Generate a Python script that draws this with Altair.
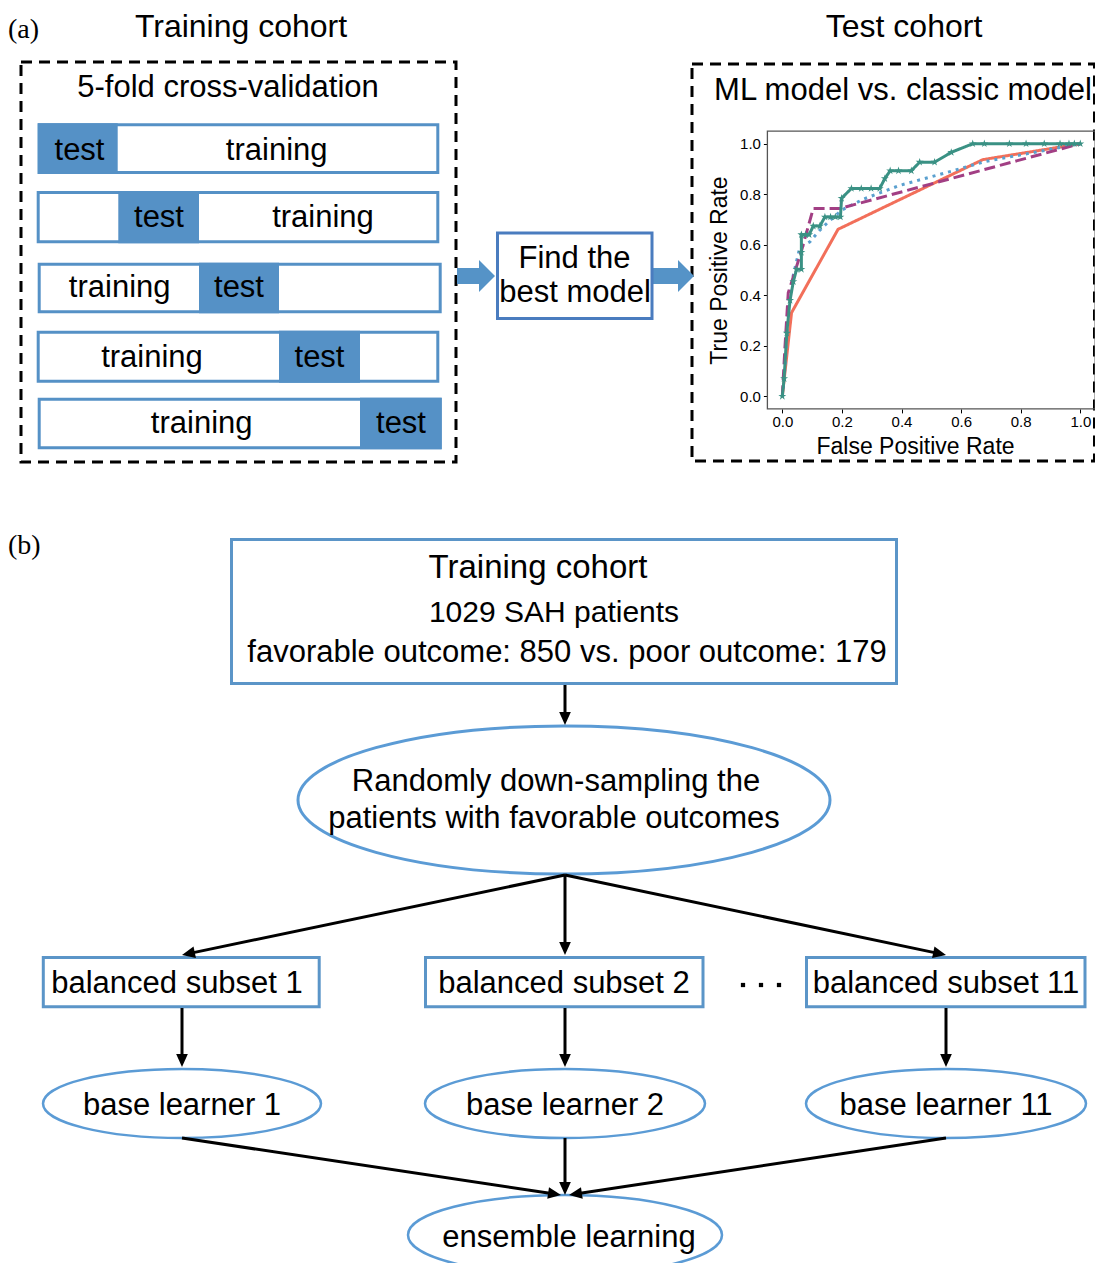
import math
import altair as alt
import pandas as pd

# ---------------- ROC data ----------------
green_fpr = [0, 0.006, 0.015, 0.026, 0.037, 0.048, 0.064, 0.064, 0.064, 0.078, 0.09, 0.104, 0.126,
             0.143, 0.162, 0.178, 0.195, 0.199, 0.232, 0.265, 0.298, 0.327, 0.344, 0.362, 0.39,
             0.433, 0.461, 0.511, 0.567, 0.639, 0.678, 0.762, 0.818, 0.879, 0.932, 0.962, 0.98, 1.0]
green_tpr = [0, 0.07, 0.25, 0.38, 0.454, 0.503, 0.503, 0.57, 0.64, 0.64, 0.64, 0.674, 0.674,
             0.71, 0.71, 0.71, 0.71, 0.784, 0.823, 0.823, 0.823, 0.823, 0.862, 0.893, 0.893,
             0.893, 0.927, 0.927, 0.966, 1.0, 1.0, 1.0, 1.0, 1.0, 1.0, 1.0, 1.0, 1.0]
red_fpr = [0, 0.031, 0.187, 0.673, 1.0]
red_tpr = [0, 0.331, 0.661, 0.937, 1.0]
purple_fpr = [0, 0.009, 0.02, 0.037, 0.065, 0.104, 0.195, 1.0]
purple_tpr = [0, 0.196, 0.41, 0.473, 0.579, 0.744, 0.744, 1.0]
blue_fpr = [0, 0.004, 0.01, 0.02, 0.035, 0.059, 0.093, 0.126, 0.154, 0.199, 0.271, 0.394, 0.573, 0.679, 1.0]
blue_tpr = [0, 0.04, 0.13, 0.35, 0.47, 0.59, 0.612, 0.658, 0.69, 0.737, 0.78, 0.835, 0.893, 0.929, 1.0]

series_names = ["classic", "dotted", "dashed", "ML"]
series_colors = ["#f26f5a", "#5aa0cf", "#a23f84", "#3a9184"]
series_dash = [[1, 0], [3, 5], [11, 5], [1, 0]]
tick_vals = [0.0, 0.2, 0.4, 0.6, 0.8, 1.0]

# ---------------- diagram text ----------------
fold_test = "test"
fold_train = "training"

# ---------------- canvas / scales ----------------
W, H = 1087, 1255
X0, Y0 = 8, 8
xs = alt.Scale(domain=[X0, X0 + W], range=[0, W], nice=False, zero=False)
ys = alt.Scale(domain=[Y0, Y0 + H], range=[0, H], nice=False, zero=False)


def XE(f):
    return alt.X(f"{f}:Q", scale=xs, axis=None)


def YE(f):
    return alt.Y(f"{f}:Q", scale=ys, axis=None)


layers = []

# dashed boxes (a)
dash_df = pd.DataFrame({"x1": [21, 692], "x2": [456, 1094.5], "y1": [62, 64], "y2": [462, 461]})
layers.append(alt.Chart(dash_df).mark_rect(fillOpacity=0, stroke="black", strokeWidth=3,
                                            strokeDash=[11, 7]).encode(
    x=XE("x1"), x2="x2", y=YE("y1"), y2="y2"))

# fold bars
bars = [
    (39.2, 437.8, 124.8, 172.5, 37.7, 117.7, 79.5, 276.7, 159.5),
    (38.2, 437.8, 192.5, 241.8, 118.3, 199.0, 159.0, 323.0, 227.0),
    (39.2, 440.2, 264.2, 311.8, 199.0, 279.0, 239.0, 119.7, 297.0),
    (38.2, 437.8, 332.2, 381.2, 279.0, 360.0, 319.5, 152.0, 367.0),
    (39.2, 440.2, 399.2, 447.8, 360.0, 441.7, 401.0, 201.7, 433.0),
]
bar_df = pd.DataFrame([{"x1": b[0], "x2": b[1], "y1": b[2], "y2": b[3]} for b in bars])
test_df = pd.DataFrame([{"x1": b[4], "x2": b[5], "y1": b[2] - 1.5, "y2": b[3] + 1.5} for b in bars])
layers.append(alt.Chart(bar_df).mark_rect(fill="white", stroke="#5591c6", strokeWidth=3).encode(
    x=XE("x1"), x2="x2", y=YE("y1"), y2="y2"))
layers.append(alt.Chart(test_df).mark_rect(fill="#5591c6").encode(
    x=XE("x1"), x2="x2", y=YE("y1"), y2="y2"))

# block arrows
shaft_df = pd.DataFrame({"x1": [457, 653], "x2": [480, 680], "y1": [268, 268], "y2": [284, 284]})
layers.append(alt.Chart(shaft_df).mark_rect(fill="#5593c7").encode(
    x=XE("x1"), x2="x2", y=YE("y1"), y2="y2"))
head_path = "M -0.5 -1 L 0.5 0 L -0.5 1 Z"
bhead_df = pd.DataFrame({"x": [487, 686], "y": [276, 276], "path": [head_path] * 2, "size": [1024, 1024]})
layers.append(alt.Chart(bhead_df).mark_point(filled=True, color="#5593c7", opacity=1, strokeWidth=0).encode(
    x=XE("x"), y=YE("y"), shape=alt.Shape("path:N", scale=None), size=alt.Size("size:Q", scale=None)))

# find-the-best-model box
find_df = pd.DataFrame({"x1": [497.5], "x2": [652], "y1": [233], "y2": [318.5]})
layers.append(alt.Chart(find_df).mark_rect(fill="white", stroke="#4a7cbf", strokeWidth=3).encode(
    x=XE("x1"), x2="x2", y=YE("y1"), y2="y2"))

# ---------------- ROC inset ----------------
roc_x = alt.Scale(domain=[-0.05, 1.05], range=[759.4, 1087.2], nice=False, zero=False)
roc_y = alt.Scale(domain=[-0.05, 1.05], range=[400.9, 123.1], nice=False, zero=False)
rows = []
for name, fx, ty in zip(series_names, [red_fpr, blue_fpr, purple_fpr, green_fpr],
                        [red_tpr, blue_tpr, purple_tpr, green_tpr]):
    for i, (a, b) in enumerate(zip(fx, ty)):
        rows.append({"series": name, "i": i, "fpr": a, "tpr": b})
roc_df = pd.DataFrame(rows)

frame_df = pd.DataFrame({"x1": [-0.05], "x2": [1.05], "y1": [-0.05], "y2": [1.05]})
layers.append(alt.Chart(frame_df).mark_rect(fillOpacity=0, stroke="#555555", strokeWidth=1.3).encode(
    x=alt.X("x1:Q", scale=roc_x, axis=None), x2="x2",
    y=alt.Y("y1:Q", scale=roc_y, axis=None), y2="y2"))

axis_common = dict(grid=False, domain=False, tickColor="black", tickSize=4, tickWidth=1,
                   labelFont="Liberation Sans", labelFontSize=15, labelColor="black",
                   titleFont="Liberation Sans", titleFontSize=23, titleFontWeight="normal",
                   titleColor="black", values=tick_vals, format=".1f")
roc_lines = alt.Chart(roc_df).mark_line(strokeWidth=3).encode(
    x=alt.X("fpr:Q", scale=roc_x,
            axis=alt.Axis(orient="bottom", offset=400.9 - H, title="False Positive Rate",
                          labelPadding=2, titlePadding=6, titleX=907, **axis_common)),
    y=alt.Y("tpr:Q", scale=roc_y,
            axis=alt.Axis(orient="left", offset=-759.4, title="True Positive Rate",
                          labelPadding=3, titlePadding=8, **axis_common)),
    color=alt.Color("series:N", scale=alt.Scale(domain=series_names, range=series_colors), legend=None),
    strokeDash=alt.StrokeDash("series:N", scale=alt.Scale(domain=series_names, range=series_dash),
                              legend=None),
    detail="series:N",
    order=alt.Order("i:Q"),
)
layers.append(roc_lines)

star = ("M 0 -1 L 0.224 -0.309 L 0.951 -0.309 L 0.363 0.118 L 0.588 0.809 L 0 0.382 "
        "L -0.588 0.809 L -0.363 0.118 L -0.951 -0.309 L -0.224 -0.309 Z")
star_df = pd.DataFrame({"fpr": green_fpr, "tpr": green_tpr})
layers.append(alt.Chart(star_df).mark_point(filled=True, color="#3a9184", opacity=1, shape=star,
                                            size=70, strokeWidth=0).encode(
    x=alt.X("fpr:Q", scale=roc_x, axis=None), y=alt.Y("tpr:Q", scale=roc_y, axis=None)))

# ---------------- part (b) ----------------
bbox_df = pd.DataFrame({
    "x1": [231.5, 43.3, 425.5, 806.5], "x2": [896.5, 319.2, 703.0, 1085.0],
    "y1": [539.5, 957.5, 957.5, 957.5], "y2": [683.5, 1006.8, 1006.8, 1006.8]})
layers.append(alt.Chart(bbox_df).mark_rect(fill="white", stroke="#5b95c8", strokeWidth=3).encode(
    x=XE("x1"), x2="x2", y=YE("y1"), y2="y2"))


def ellipse_path(rx, ry):
    k = ry / rx
    c = 0.5523
    return (f"M -1 0 C -1 {-c*k:.4f} {-c:.4f} {-k:.4f} 0 {-k:.4f} "
            f"C {c:.4f} {-k:.4f} 1 {-c*k:.4f} 1 0 "
            f"C 1 {c*k:.4f} {c:.4f} {k:.4f} 0 {k:.4f} "
            f"C {-c:.4f} {k:.4f} -1 {c*k:.4f} -1 0 Z")


ellipses = [(564, 800, 266, 74, 3), (182, 1103.5, 139, 34.5, 2.5), (565, 1103.5, 140, 34.5, 2.5),
            (946, 1103.5, 140, 34.5, 2.5), (565, 1235, 157, 40, 2.5)]
ell_df = pd.DataFrame([{"x": e[0], "y": e[1], "path": ellipse_path(e[2], e[3]),
                        "size": (2 * e[2]) ** 2, "sw": e[4]} for e in ellipses])
layers.append(alt.Chart(ell_df).mark_point(filled=False, color="#5b9bd5", opacity=1).encode(
    x=XE("x"), y=YE("y"), shape=alt.Shape("path:N", scale=None),
    size=alt.Size("size:Q", scale=None), strokeWidth=alt.StrokeWidth("sw:Q", scale=None)))

# arrows
arrows = [((565, 685), (565, 725)), ((565, 875), (182, 955)), ((565, 875), (565, 955)),
          ((565, 875), (946, 955)), ((182, 1008), (182, 1067)), ((565, 1008), (565, 1067)),
          ((946, 1008), (946, 1067)), ((182, 1138), (561, 1195)), ((565, 1138), (565, 1195)),
          ((946, 1138), (569, 1195))]
line_rows, head_rows = [], []
for (sx, sy), (tx, ty) in arrows:
    dx, dy = tx - sx, ty - sy
    L = math.hypot(dx, dy)
    ux, uy = dx / L, dy / L
    line_rows.append({"x1": sx, "y1": sy, "x2": tx - 8 * ux, "y2": ty - 8 * uy})
    ang = math.degrees(math.atan2(dx, -dy)) % 360
    head_rows.append({"x": tx, "y": ty, "ang": ang})
layers.append(alt.Chart(pd.DataFrame(line_rows)).mark_rule(color="black", strokeWidth=3).encode(
    x=XE("x1"), y=YE("y1"), x2="x2", y2="y2"))
arrow_head = "M 0 0 L 0.45 1 L -0.45 1 Z"
layers.append(alt.Chart(pd.DataFrame(head_rows)).mark_point(
    filled=True, color="black", opacity=1, shape=arrow_head, size=676, strokeWidth=0).encode(
    x=XE("x"), y=YE("y"), angle=alt.Angle("ang:Q", scale=None)))

# ellipsis dots
dots_df = pd.DataFrame({"x": [743, 761, 779], "y": [985, 985, 985]})
layers.append(alt.Chart(dots_df).mark_point(filled=True, shape="square", size=18, color="black",
                                            opacity=1).encode(x=XE("x"), y=YE("y")))

# ---------------- texts ----------------
texts = [
    ("Training cohort", 241, 37, 32), ("Test cohort", 904, 37, 32),
    ("5-fold cross-validation", 228, 97, 31), ("ML model vs. classic model", 903, 100, 31),
    ("Find the", 574.5, 268, 31), ("best model", 575, 302, 31),
    ("Training cohort", 538, 578, 33), ("1029 SAH patients", 554, 622, 30),
    ("favorable outcome: 850 vs. poor outcome: 179", 567, 662, 31),
    ("Randomly down-sampling the", 556, 791, 31), ("patients with favorable outcomes", 554, 828, 31),
    ("balanced subset 1", 177, 993, 31), ("balanced subset 2", 564, 993, 31),
    ("balanced subset 11", 946, 993, 31),
    ("base learner 1", 182, 1115, 31), ("base learner 2", 565, 1115, 31),
    ("base learner 11", 946, 1115, 31), ("ensemble learning", 569, 1247, 31),
]
for b in bars:
    texts.append((fold_test, b[6], b[8], 31))
    texts.append((fold_train, b[7], b[8], 31))
text_df = pd.DataFrame(texts, columns=["t", "x", "y", "fs"])
layers.append(alt.Chart(text_df).mark_text(font="Liberation Sans", color="black", align="center",
                                           baseline="alphabetic").encode(
    x=XE("x"), y=YE("y"), text="t:N", size=alt.Size("fs:Q", scale=None)))

panel_df = pd.DataFrame({"t": ["(a)", "(b)"], "x": [8, 8], "y": [38, 554]})
layers.append(alt.Chart(panel_df).mark_text(font="Liberation Serif", fontSize=28, color="black",
                                            align="left", baseline="alphabetic").encode(
    x=XE("x"), y=YE("y"), text="t:N"))

chart = alt.layer(*layers).resolve_scale(
    x="independent", y="independent", color="independent", strokeDash="independent",
    shape="independent", size="independent"
).properties(
    width=W, height=H, padding=0, autosize=alt.AutoSizeParams(type="none")
).configure_view(stroke=None)

chart.save("out.html", embed_options={"renderer": "svg", "actions": False})
